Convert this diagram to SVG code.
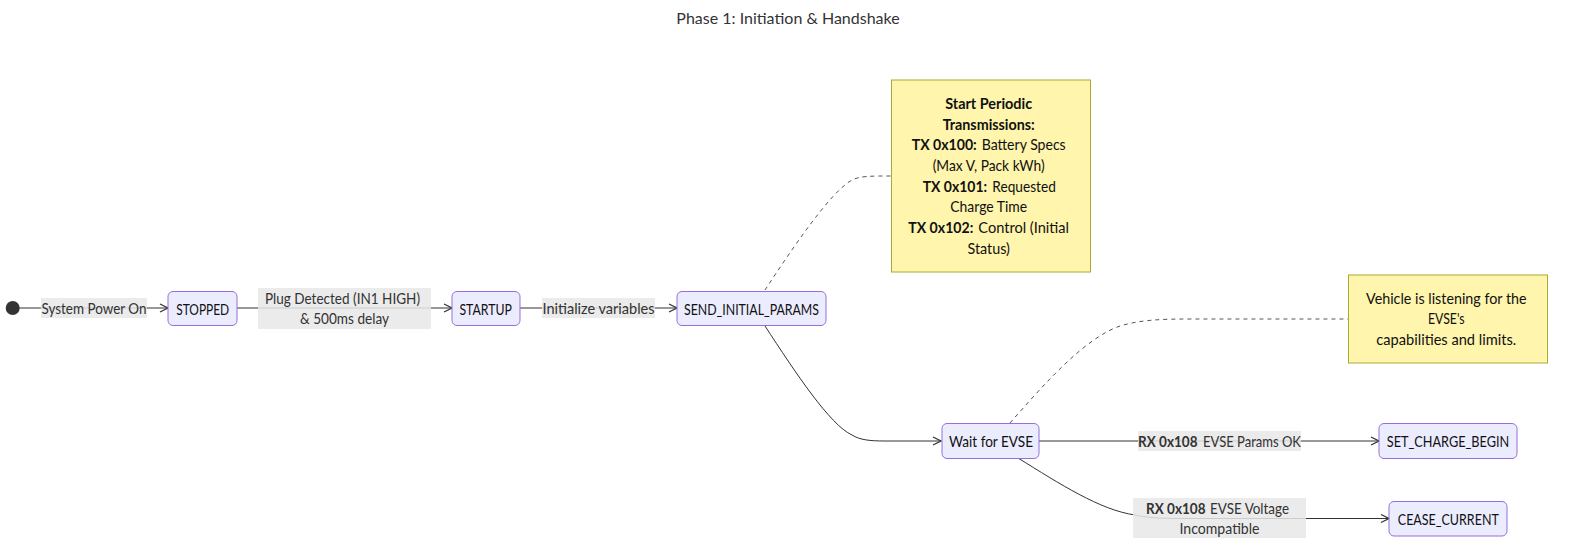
<svg xmlns="http://www.w3.org/2000/svg" width="1584" height="550" viewBox="0 0 1584 550">
<style>
text{font-family:"Trebuchet MS",Lato,"Liberation Sans",sans-serif;font-size:15px;fill:#333;text-anchor:middle;dominant-baseline:central}
text.s{text-anchor:start}
.title{font-size:16px;fill:#333}
.node rect{fill:#ECECFF;stroke:#9370DB;stroke-width:1}
.node text{fill:#111}
.note rect{fill:#fff5ad;stroke:#aaaa33;stroke-width:1}
.note text{fill:#111}
.edge{fill:none;stroke:#333;stroke-width:1}
.dash{fill:none;stroke:#555;stroke-width:1;stroke-dasharray:4 4}
.lbg{fill:#e8e8e8;opacity:0.85}
.b{font-weight:bold}
</style>
<defs>
<marker id="arr" viewBox="0 0 10 10" refX="9" refY="5" markerWidth="10" markerHeight="10" markerUnits="userSpaceOnUse" orient="auto">
<path d="M1,1 L9,5 L1,9" fill="none" stroke="#333" stroke-width="1.2"/>
</marker>
</defs>
<rect width="1584" height="550" fill="#fff"/>
<text class="title" x="788" y="17">Phase 1: Initiation &amp; Handshake</text>

<g id="connectors">
<path class="edge" d="M19,308 L168,308" marker-end="url(#arr)"/>
<path class="edge" d="M237,308 L452,308" marker-end="url(#arr)"/>
<path class="edge" d="M520,308 L677,308" marker-end="url(#arr)"/>
<path class="edge" d="M765,326 C795,372 830,425 852,435 C860,440 870,441 885,441 L941,441" marker-end="url(#arr)"/>
<path class="edge" d="M1039,441 L1379,441" marker-end="url(#arr)"/>
<path class="edge" d="M1018,458 C1060,484 1100,510 1135,515 C1145,517.5 1160,518.5 1180,518.5 L1389,518.5" marker-end="url(#arr)"/>
<path class="dash" d="M765,290 C790,252 830,192 852,180 C860,176 870,176 891,176"/>
<path class="dash" d="M1010,423 C1045,383 1085,338 1120,326 C1140,320 1160,319 1190,319 L1348,319"/>
<rect class="lbg" x="41" y="298" width="106" height="20"/>
<text x="94" y="308" textLength="105" lengthAdjust="spacingAndGlyphs">System Power On</text>
<rect class="lbg" x="258" y="288" width="173" height="41"/>
<text x="342.5" y="298" textLength="155" lengthAdjust="spacingAndGlyphs">Plug Detected (IN1 HIGH)</text>
<text x="344.5" y="318" textLength="89" lengthAdjust="spacingAndGlyphs">&amp; 500ms delay</text>
<rect class="lbg" x="542" y="298" width="113" height="20"/>
<text x="598.5" y="308" textLength="112" lengthAdjust="spacingAndGlyphs">Initialize variables</text>
<rect class="lbg" x="1138" y="431" width="163" height="20"/>
<text class="s b" x="1138" y="441" textLength="59.5" lengthAdjust="spacingAndGlyphs">RX 0x108</text>
<text class="s" x="1203" y="441" textLength="98" lengthAdjust="spacingAndGlyphs">EVSE Params OK</text>
<rect class="lbg" x="1133" y="498" width="173" height="40"/>
<text class="s b" x="1146" y="508" textLength="59.5" lengthAdjust="spacingAndGlyphs">RX 0x108</text>
<text class="s" x="1210" y="508" textLength="79" lengthAdjust="spacingAndGlyphs">EVSE Voltage</text>
<text x="1219.5" y="528" textLength="80" lengthAdjust="spacingAndGlyphs">Incompatible</text>
</g>

<g id="start"><circle cx="12.7" cy="308" r="7" fill="#333"/></g>
<g id="STOPPED" class="node"><rect x="168" y="291.5" width="69" height="34" rx="5"/><text x="202.7" y="308.5" textLength="53" lengthAdjust="spacingAndGlyphs">STOPPED</text></g>
<g id="STARTUP" class="node"><rect x="452" y="291.5" width="68" height="34" rx="5"/><text x="485.7" y="308.5" textLength="52.5" lengthAdjust="spacingAndGlyphs">STARTUP</text></g>
<g id="SEND_INITIAL_PARAMS" class="node"><rect x="677" y="291.5" width="149" height="34" rx="5"/><text x="751.5" y="308.5" textLength="135" lengthAdjust="spacingAndGlyphs">SEND_INITIAL_PARAMS</text></g>
<g id="WaitForEVSE" class="node"><rect x="942" y="423.5" width="97" height="35" rx="5"/><text x="991" y="441" textLength="84" lengthAdjust="spacingAndGlyphs">Wait for EVSE</text></g>
<g id="SET_CHARGE_BEGIN" class="node"><rect x="1379" y="423.5" width="138" height="35" rx="5"/><text x="1448" y="441" textLength="122.5" lengthAdjust="spacingAndGlyphs">SET_CHARGE_BEGIN</text></g>
<g id="CEASE_CURRENT" class="node"><rect x="1389" y="501.5" width="118" height="34.5" rx="5"/><text x="1448.3" y="519" textLength="101" lengthAdjust="spacingAndGlyphs">CEASE_CURRENT</text></g>

<g id="note1" class="note">
<rect x="891.5" y="80" width="199" height="192"/>
<text x="988.7" y="103" class="b" textLength="87" lengthAdjust="spacingAndGlyphs">Start Periodic</text>
<text x="988.7" y="124" class="b" textLength="92" lengthAdjust="spacingAndGlyphs">Transmissions:</text>
<text class="s b" x="911.7" y="144" textLength="65" lengthAdjust="spacingAndGlyphs">TX 0x100:</text>
<text class="s" x="981.7" y="144" textLength="84" lengthAdjust="spacingAndGlyphs">Battery Specs</text>
<text x="988.7" y="165" textLength="112" lengthAdjust="spacingAndGlyphs">(Max V, Pack kWh)</text>
<text class="s b" x="922.7" y="186" textLength="64.5" lengthAdjust="spacingAndGlyphs">TX 0x101:</text>
<text class="s" x="992.3" y="186" textLength="63.5" lengthAdjust="spacingAndGlyphs">Requested</text>
<text x="988.7" y="206" textLength="77" lengthAdjust="spacingAndGlyphs">Charge Time</text>
<text class="s b" x="908.3" y="227" textLength="65" lengthAdjust="spacingAndGlyphs">TX 0x102:</text>
<text class="s" x="978.3" y="227" textLength="90.7" lengthAdjust="spacingAndGlyphs">Control (Initial</text>
<text x="988.7" y="248" textLength="42.5" lengthAdjust="spacingAndGlyphs">Status)</text>
</g>
<g id="note2" class="note">
<rect x="1348.5" y="275" width="199" height="88"/>
<text x="1446.3" y="298" textLength="160.5" lengthAdjust="spacingAndGlyphs">Vehicle is listening for the</text>
<text x="1446.3" y="318" textLength="36.7" lengthAdjust="spacingAndGlyphs">EVSE's</text>
<text x="1446.3" y="339" textLength="140" lengthAdjust="spacingAndGlyphs">capabilities and limits.</text>
</g>
</svg>
